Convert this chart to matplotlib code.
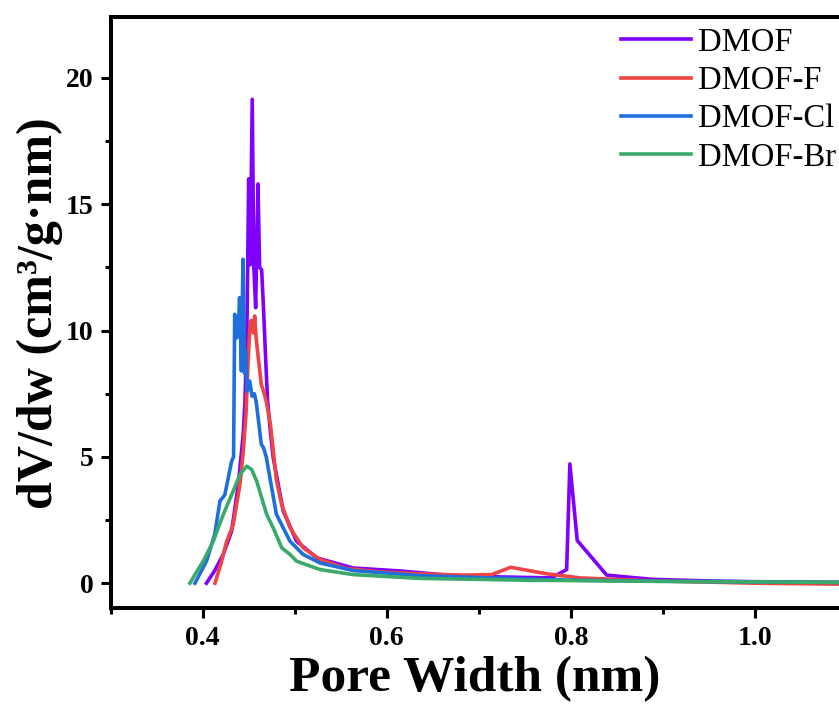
import numpy as np
import matplotlib
matplotlib.use('Agg')
import matplotlib.pyplot as plt
from matplotlib.ticker import MultipleLocator

# Datos (ancho de poro en nm, dV/dw en cm3/g.nm)
x_dmof = [0.404, 0.413, 0.4223, 0.4314, 0.4386, 0.444, 0.4459, 0.448, 0.4499, 0.4515,
          0.4538, 0.4555, 0.4575, 0.4600, 0.4618, 0.4640, 0.4660, 0.4687, 0.4705, 0.4735,
          0.4766, 0.4875, 0.502, 0.524, 0.5636, 0.616, 0.665, 0.72, 0.779, 0.7955,
          0.799, 0.807, 0.839, 0.889, 0.95, 1.0, 1.1]
y_dmof = [0.0, 0.5, 1.14, 2.06, 3.9, 5.9, 7.2, 10.0, 16.0, 12.6,
          19.15, 12.5, 10.9, 15.8, 12.5, 12.4, 10.9, 8.6, 7.2, 6.0,
          4.96, 2.85, 1.66, 1.0, 0.6, 0.48, 0.32, 0.25, 0.21, 0.54,
          4.72, 1.69, 0.32, 0.15, 0.09, 0.06, 0.03]

x_f = [0.4133, 0.420, 0.426, 0.433, 0.4404, 0.444, 0.447, 0.449, 0.451, 0.4527,
       0.455, 0.4564, 0.458, 0.4636, 0.466, 0.469, 0.4735, 0.480, 0.4858, 0.491,
       0.4948, 0.509, 0.5274, 0.556, 0.5926, 0.636, 0.683, 0.714, 0.7347, 0.774,
       0.81, 0.8825, 1.0, 1.1]
y_f = [0.0, 0.8, 1.66, 2.3, 3.9, 5.2, 6.7, 8.5, 10.0, 10.4,
       9.9, 10.57, 9.7, 7.87, 7.6, 7.2, 6.3, 4.1, 3.1, 2.59,
       2.2, 1.4, 0.94, 0.58, 0.45, 0.37, 0.32, 0.34, 0.63, 0.37,
       0.21, 0.10, 0.0, -0.04]

x_cl = [0.3915, 0.404, 0.413, 0.4187, 0.424, 0.4314, 0.4335, 0.4347, 0.4365, 0.4385,
        0.440, 0.442, 0.4437, 0.4455, 0.4466, 0.4483, 0.451, 0.4535, 0.456, 0.458,
        0.462, 0.4636, 0.466, 0.469, 0.473, 0.480, 0.4948, 0.509, 0.5274, 0.5636,
        0.636, 0.70, 0.80, 0.90, 1.0, 1.1]
y_cl = [0.0, 0.87, 1.93, 3.25, 3.5, 4.83, 5.0, 10.64, 9.7, 9.8,
        11.3, 8.4, 12.82, 8.3, 9.2, 7.6, 8.0, 7.4, 7.5, 7.2,
        6.0, 5.5, 5.36, 5.0, 4.17, 2.73, 1.66, 1.14, 0.8, 0.5,
        0.3, 0.22, 0.12, 0.08, 0.05, 0.03]

x_br = [0.386, 0.3925, 0.4005, 0.4114, 0.4223, 0.433, 0.4404, 0.4477, 0.4531, 0.4586,
        0.4695, 0.4766, 0.4858, 0.4948, 0.502, 0.5274, 0.5636, 0.636, 0.75, 0.90, 1.1]
y_br = [0.0, 0.4, 0.87, 1.66, 2.72, 3.64, 4.3, 4.63, 4.5, 4.04,
        2.72, 2.19, 1.4, 1.14, 0.87, 0.54, 0.34, 0.19, 0.12, 0.07, 0.03]

series = ['DMOF', 'DMOF-F', 'DMOF-Cl', 'DMOF-Br']
colores = ['#7F00FF', '#EE4444', '#1E6FDC', '#3AAA6A']

plt.rcParams['font.family'] = ['Liberation Serif', 'DejaVu Serif']

fig = plt.figure(figsize=(8.39, 7.15), dpi=100)
ax = fig.add_axes([0.132, 0.149, 0.868, 0.827])

datos = [(x_dmof, y_dmof), (x_f, y_f), (x_cl, y_cl), (x_br, y_br)]
for (xx, yy), nombre, c in zip(datos, series, colores):
    ax.plot(xx, yy, color=c, lw=2.6, label=nombre, solid_joinstyle='round')

ax.set_xlim(0.3, 1.0915)
ax.set_ylim(-1, 22.4)
ax.xaxis.set_major_locator(MultipleLocator(0.2))
ax.xaxis.set_minor_locator(MultipleLocator(0.1))
ax.yaxis.set_major_locator(MultipleLocator(5))
ax.yaxis.set_minor_locator(MultipleLocator(2.5))
ax.set_xticks([0.4, 0.6, 0.8, 1.0])
ax.set_xticklabels(['0.4', '0.6', '0.8', '1.0'])

ax.tick_params(which='major', direction='out', length=7.5, width=2.2, labelsize=20, pad=5)
ax.tick_params(which='minor', direction='out', length=4.5, width=2.2)
ax.tick_params(top=False, right=False, which='both')
for lab in ax.get_xticklabels() + ax.get_yticklabels():
    lab.set_fontweight('bold')

for lado in ['left', 'bottom', 'top']:
    ax.spines[lado].set_linewidth(2.9)
ax.spines['right'].set_visible(False)

ax.set_xlabel('Pore Width (nm)', fontsize=37, fontweight='bold', labelpad=4)
ax.set_ylabel('dV/dw (cm³/g·nm)', fontsize=36, fontweight='bold', labelpad=2)

ax.legend(loc='upper left', bbox_to_anchor=(0.74, 0.962), bbox_transform=fig.transFigure,
          frameon=False, fontsize=23.5, handlelength=2.15, handletextpad=0.2,
          labelspacing=0.24, borderpad=0, borderaxespad=0)

plt.savefig('out.png', dpi=100)
